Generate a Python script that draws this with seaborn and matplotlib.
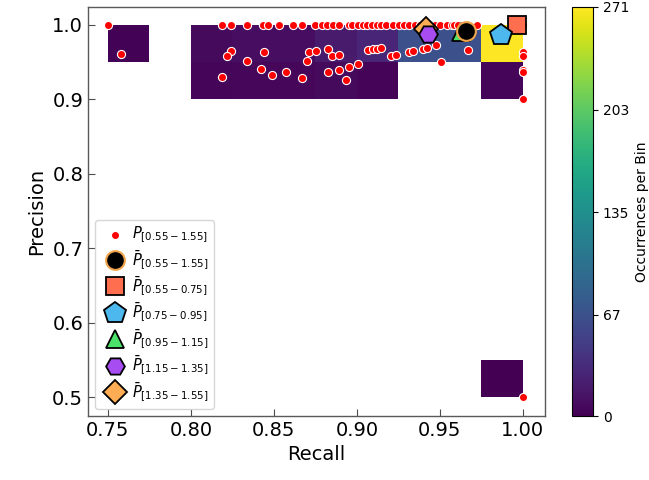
import numpy as np
import pandas as pd
import matplotlib
matplotlib.use("Agg")
import matplotlib.pyplot as plt
import seaborn as sns

# ---- 2D histogram bins (bin centers and counts) ----
bin_recall = [0.7625, 0.8125, 0.8375, 0.8625, 0.8875, 0.9125, 0.9375, 0.9625, 0.9875,
              0.8125, 0.8375, 0.8625, 0.8875, 0.9125, 0.9875, 0.9875]
bin_precision = [0.975, 0.975, 0.975, 0.975, 0.975, 0.975, 0.975, 0.975, 0.975,
                 0.925, 0.925, 0.925, 0.925, 0.925, 0.925, 0.525]
bin_counts = [2, 7, 9, 9, 20, 28, 66, 66, 271,
              4, 5, 5, 7, 3, 4, 1]

# ---- individual points ----
pt_recall = [0.750, 0.8185, 0.824, 0.8335, 0.8436, 0.8466, 0.8532, 0.8612, 0.8669,
             0.8747, 0.8787, 0.8821, 0.8857, 0.8892, 0.8953, 0.8973, 0.9006, 0.9036,
             0.9062, 0.9092, 0.912, 0.9146, 0.9175, 0.9215, 0.9255, 0.9283, 0.9313,
             0.9349, 0.9380, 0.9416, 0.9440, 0.9470, 0.950, 0.954, 0.957, 0.9585,
             0.961, 0.964, 0.967, 0.9725, 1.0,
             0.758, 0.824, 0.8217, 0.844, 0.8335, 0.8185, 0.8422, 0.8488, 0.8574,
             0.8669, 0.8699, 0.871, 0.8753, 0.8827, 0.8847, 0.8892, 0.8827, 0.889,
             0.895, 0.9004, 0.8932, 0.9068, 0.9094, 0.9122, 0.9145, 0.9203, 0.9233,
             0.9313, 0.9339, 0.9396, 0.942, 0.9476, 0.9504, 0.967,
             1.0, 1.0, 1.0, 1.0, 1.0, 1.0]
pt_precision = [1.0] * 41 + [
             0.961, 0.965, 0.958, 0.964, 0.952, 0.9305, 0.9404, 0.933, 0.937,
             0.928, 0.952, 0.964, 0.965, 0.967, 0.958, 0.960, 0.937, 0.940,
             0.944, 0.948, 0.9256, 0.966, 0.967, 0.968, 0.9695, 0.958, 0.960,
             0.964, 0.965, 0.968, 0.9695, 0.9727, 0.950, 0.966,
             0.964, 0.958, 0.940, 0.937, 0.900, 0.500]

# ---- mean markers ----
mean_labels = [r"$\bar{P}_{[0.55-1.55]}$", r"$\bar{P}_{[0.55-0.75]}$",
               r"$\bar{P}_{[0.75-0.95]}$", r"$\bar{P}_{[0.95-1.15]}$",
               r"$\bar{P}_{[1.15-1.35]}$", r"$\bar{P}_{[1.35-1.55]}$"]
mean_recall = [0.9660, 0.9966, 0.9870, 0.9627, 0.9426, 0.9416]
mean_precision = [0.9919, 0.9995, 0.9866, 0.9900, 0.9880, 0.9950]
mean_markers = ["o", "s", "p", "^", "H", "D"]
mean_colors = ["black", "#ff6f4f", "#4db8ee", "#4be36a", "#a64cf0", "#ffad55"]
mean_edges = ["#f0a54c", "black", "black", "black", "black", "black"]
mean_sizes = [13.5, 12.5, 16, 13, 13.5, 12]
mean_z = [8, 5, 5, 4, 6, 5]

cbar_ticks = [0, 67, 135, 203, 271]

fig = plt.figure(figsize=(6.49, 4.80), dpi=100)
W, H = 649, 480
ax = fig.add_axes([88 / W, 1 - 416 / H, (545 - 88) / W, (416 - 7) / H])
cax = fig.add_axes([572 / W, 1 - 416 / H, 21 / W, (416 - 7) / H])

bins_df = pd.DataFrame({"Recall": bin_recall, "Precision": bin_precision, "count": bin_counts})
sns.histplot(data=bins_df, x="Recall", y="Precision", weights="count",
             binwidth=(0.025, 0.05), binrange=((0.75, 1.0), (0.5, 1.0)),
             cmap="viridis", vmin=0, vmax=271, cbar=True, cbar_ax=cax,
             cbar_kws={"ticks": cbar_ticks}, ax=ax, zorder=1)

pts_df = pd.DataFrame({"Recall": pt_recall, "Precision": pt_precision})
sns.scatterplot(data=pts_df, x="Recall", y="Precision", color="red", s=34,
                edgecolor="white", linewidth=0.8, ax=ax, zorder=3,
                label=r"$P_{[0.55-1.55]}$")

for i in range(len(mean_labels)):
    ax.plot([mean_recall[i]], [mean_precision[i]], linestyle="none",
            marker=mean_markers[i], markersize=mean_sizes[i],
            markerfacecolor=mean_colors[i], markeredgecolor=mean_edges[i],
            markeredgewidth=1.5 if i == 0 else 1.3, zorder=mean_z[i],
            label=mean_labels[i])

ax.set_xlim(0.738, 1.0133)
ax.set_ylim(0.4745, 1.024)
ax.set_xticks([0.75, 0.80, 0.85, 0.90, 0.95, 1.00])
ax.set_xticklabels(["0.75", "0.80", "0.85", "0.90", "0.95", "1.00"])
ax.set_yticks([0.5, 0.6, 0.7, 0.8, 0.9, 1.0])
ax.set_yticklabels(["0.5", "0.6", "0.7", "0.8", "0.9", "1.0"])
ax.tick_params(direction="in", labelsize=14, length=5, color="0.3")
ax.set_xlabel("Recall", fontsize=14)
ax.set_ylabel("Precision", fontsize=14)
for sp in ax.spines.values():
    sp.set_color("0.35")
    sp.set_linewidth(1.0)

cax.tick_params(labelsize=10)
cax.set_ylabel("Occurrences per Bin", fontsize=10)

handles, labels = ax.get_legend_handles_labels()
leg = ax.legend(handles, labels, loc="lower left", fontsize=10.5,
                borderaxespad=0.5, handletextpad=0.2, labelspacing=0.2,
                borderpad=0.35)

fig.savefig("out.png", dpi=100)
